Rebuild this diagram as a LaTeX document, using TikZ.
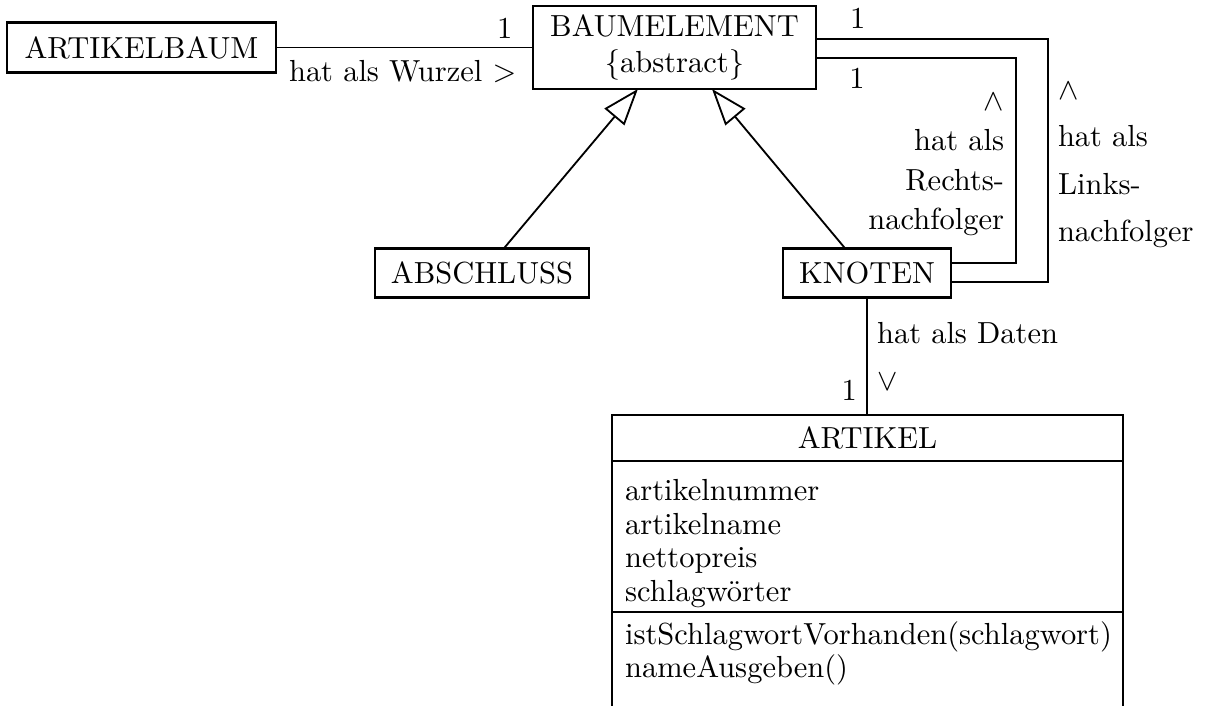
\documentclass[tikz,border=0pt]{standalone}
\usepackage{amsmath}
\usepackage{tikz}
\usetikzlibrary{arrows.meta,positioning}

\begin{document}
\begin{tikzpicture}[x=0.328pt,y=-0.328pt,
      klasse/.style={draw=black,line width=0.9pt,minimum height=16.2pt,inner sep=0pt,outer sep=0pt},
      abschnitt/.style={draw=black,line width=0.9pt,align=left,text width=159pt,inner xsep=4.3pt,outer sep=0pt,
        font=\fontsize{10}{11}\selectfont},
      linie/.style={line width=0.6pt},
      erbt/.style={linie,-{Triangle[open,length=12pt,width=8.5pt]}}]
    \useasboundingbox (0,0) rectangle (1208,705);
    \node (artikelbaum) [klasse,minimum width=88.2pt] at (141.5,47.5) {ARTIKELBAUM};
    \node (baumelement) [klasse,minimum width=92.8pt,minimum height=27.2pt,align=center] at (674.5,47.5)
      {BAUMELEMENT\\\{abstract\}};
    \node (abschluss) [klasse,minimum width=70.2pt] at (482,273) {ABSCHLUSS};
    \node (knoten) [klasse,minimum width=55.1pt] at (867,273) {KNOTEN};
    \node (artikel) [klasse,minimum width=167.6pt,minimum height=15.1pt] at (867.5,438) {ARTIKEL};
    \node (attribute) [abschnitt,below=0pt of artikel,minimum height=49.5pt,inner ysep=1.5pt]
      {\rule{0pt}{11.5pt}artikelnummer\\artikelname\\nettopreis\\schlagw\"orter};
    \node (methoden) [abschnitt,draw=none,below=0pt of attribute,inner ysep=3pt]
      {istSchlagwortVorhanden(schlagwort)\\nameAusgeben()};
    \draw [line width=0.9pt] (attribute.south west) -- ++(0,130);
    \draw [line width=0.9pt] (attribute.south east) -- ++(0,130);
    \draw [linie] (artikelbaum) -- (baumelement)
      node [pos=1,anchor=south east,inner sep=0pt,xshift=-6.5pt,yshift=2.6pt] {1}
      node [pos=1,anchor=north east,inner sep=0pt,xshift=-5.2pt,yshift=-4pt] {hat als Wurzel $>$};
    \draw [erbt] ([xshift=7.2pt]abschluss.north) -- ([xshift=-12pt]baumelement.south);
    \draw [erbt] ([xshift=-7.2pt]knoten.north) -- ([xshift=12.3pt]baumelement.south);
    \draw [linie] ([yshift=2.8pt]baumelement.east) -- node [pos=0.18,above,inner sep=3pt] {1} ++(232,0)
      |- node [pos=0.25,right,inner sep=3pt,yshift=-1.5pt,align=left,font=\fontsize{10}{15.5}\selectfont]
        {$\wedge$\\hat als\\Links-\\nachfolger} ([yshift=-3pt]knoten.east);
    \draw [linie] ([yshift=-3.4pt]baumelement.east) -- node [pos=0.205,below,inner sep=3pt] {1} ++(200,0)
      |- node [pos=0.25,left,inner sep=3.6pt,yshift=-1.5pt,align=right,font=\fontsize{10}{13}\selectfont]
        {$\wedge$\\hat als\\Rechts-\\nachfolger} ([yshift=3.3pt]knoten.east);
    \draw [linie] (knoten.south) -- (knoten.south |- artikel.north)
      node [pos=0.5,right,inner sep=3pt,align=left,font=\fontsize{10}{15.4}\selectfont] {hat als Daten\\$\vee$}
      node [pos=1,anchor=south east,inner sep=0pt,xshift=-3pt,yshift=4.3pt] {1};
\end{tikzpicture}
\end{document}
